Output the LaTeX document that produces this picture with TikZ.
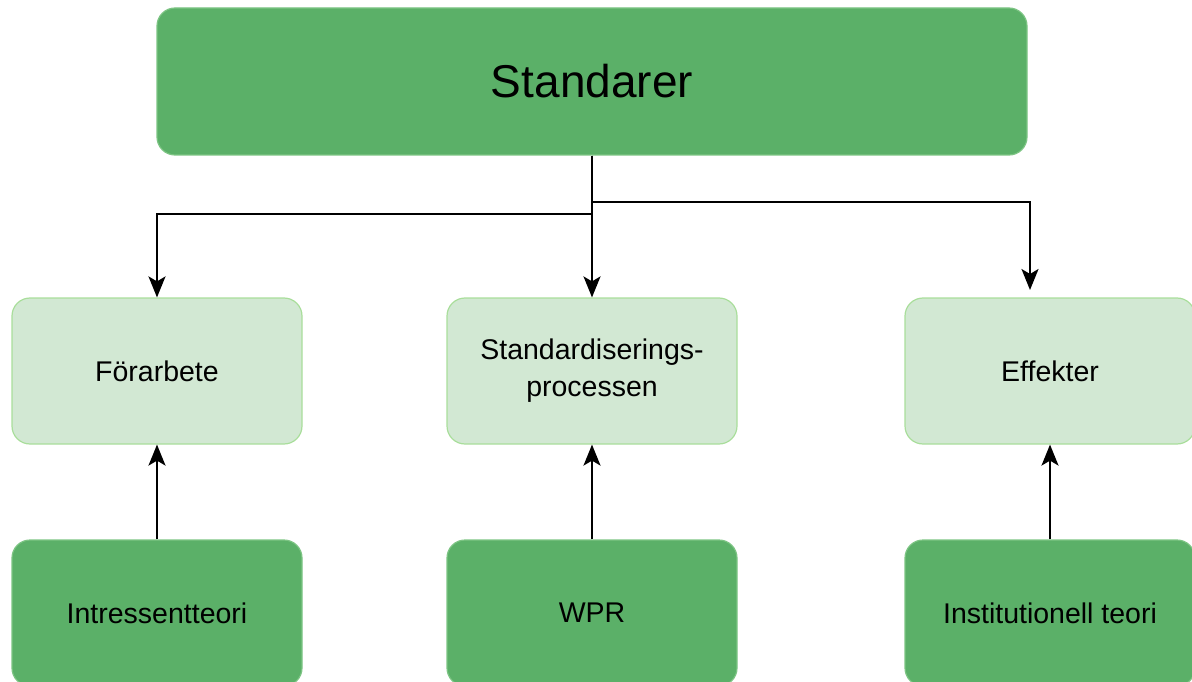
\documentclass[tikz,border=0pt]{standalone}
\usepackage{fontspec}
\setmainfont{Liberation Sans}
\usetikzlibrary{arrows.meta}
\definecolor{darkg}{HTML}{5BB068}
\definecolor{darkgb}{HTML}{7CC483}
\definecolor{lightg}{HTML}{D2E8D3}
\definecolor{lightgb}{HTML}{A9DE9B}
\tikzset{
  darkbox/.style={draw=darkgb, line width=1.2pt, fill=darkg, rounded corners=18pt, minimum width=290pt, minimum height=146pt, inner sep=0pt, align=center, font=\fontsize{28.5}{34}\selectfont},
  lightbox/.style={draw=lightgb, line width=1.2pt, fill=lightg, rounded corners=18pt, minimum width=290pt, minimum height=146pt, inner sep=0pt, align=center, font=\fontsize{28.5}{37}\selectfont},
  arr/.style={draw=black, line width=2pt, -{Stealth[length=21pt,width=17pt,inset=5pt]}}
}
\begin{document}
\begin{tikzpicture}[x=1pt,y=-1pt]
\useasboundingbox (0,0) rectangle (1192,682);
\node[darkbox, minimum width=870pt, minimum height=147pt, font=\fontsize{46}{52}\selectfont] (top) at (592,81.5) {Standarer};
\node[lightbox] (fa) at (157,371) {Förarbete};
\node[lightbox] (sp) at (592,371) {Standardiserings-\\processen};
\node[lightbox] (ef) at (1050,371) {Effekter};
\node[darkbox] (it) at (157,613) {Intressentteori};
\node[darkbox] (wp) at (592,613) {WPR};
\node[darkbox] (in) at (1050,613) {Institutionell teori};
\coordinate (j1) at (592,214);
\coordinate (j2) at (592,202);
\coordinate (efin) at (1030,290);
\draw[arr] (top.south) -- (j1) -| (fa.north);
\draw[arr] (top.south) -- (sp.north);
\draw[arr] (top.south) -- (j2) -| (efin);
\draw[arr] (it.north) -- (fa.south);
\draw[arr] (wp.north) -- (sp.south);
\draw[arr] (in.north) -- (ef.south);
\end{tikzpicture}
\end{document}
